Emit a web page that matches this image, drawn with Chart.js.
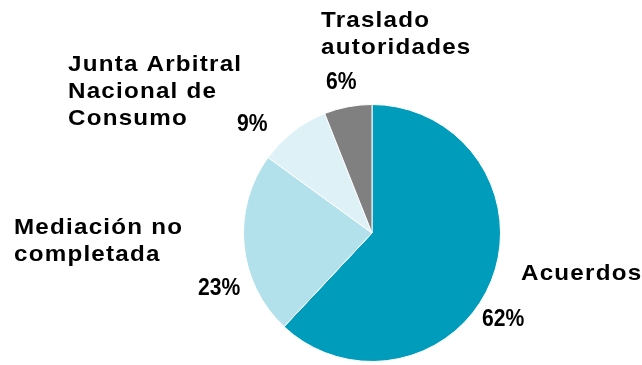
<!DOCTYPE html>
<html>
<head>
<meta charset="utf-8">
<script src="https://cdn.jsdelivr.net/npm/chart.js@4"></script>
<style>
    html, body { margin: 0; padding: 0; background: #ffffff; }
    #wrap { width: 642px; height: 365px; }
</style>
</head>
<body>
<div id="wrap"><canvas id="mediacionPie" width="642" height="365"></canvas></div>
<script>
// Resultados de las mediaciones (%)
const categories = [
    ["Acuerdos"],
    ["Mediación no", "completada"],
    ["Junta Arbitral", "Nacional de", "Consumo"],
    ["Traslado", "autoridades"]
];
const percents = [62, 23, 9, 6];
const sliceColors = ["#009CBC", "#B2E0EB", "#DDF1F6", "#808080"];

// where each label block sits: name (left, first baseline) and percentage (left, baseline)
const labelSpots = [
    { nx: 521, ny: 280, px: 482, py: 326 },
    { nx: 14,  ny: 234, px: 198, py: 295 },
    { nx: 68,  ny: 71,  px: 237, py: 131 },
    { nx: 321, ny: 27,  px: 326, py: 89 }
];

function stretchedText(ctx, text, x, y, sx) {
    ctx.save();
    ctx.translate(x, y);
    ctx.scale(sx, 1);
    ctx.fillText(text, 0, 0);
    ctx.restore();
}

const sliceLabels = {
    id: "sliceLabels",
    afterDraw(chart) {
        const ctx = chart.ctx;
        ctx.save();
        ctx.fillStyle = "#000000";
        ctx.textAlign = "left";
        ctx.textBaseline = "alphabetic";
        categories.forEach(function (lines, i) {
            const spot = labelSpots[i];
            // category names: wide lettering
            ctx.font = "bold 22px 'Liberation Sans', Arial, sans-serif";
            ctx.letterSpacing = "1.1px";
            lines.forEach(function (line, j) {
                stretchedText(ctx, line, spot.nx, spot.ny + j * 27, 1.1);
            });
            // percentages: narrow lettering
            ctx.font = "bold 24px 'Liberation Sans', Arial, sans-serif";
            ctx.letterSpacing = "0px";
            stretchedText(ctx, chart.data.datasets[0].data[i] + "%", spot.px, spot.py, 0.88);
        });
        ctx.restore();
    }
};

new Chart(document.getElementById("mediacionPie").getContext("2d"), {
    type: "pie",
    data: {
        labels: categories.map(l => l.join(" ")),
        datasets: [{
            data: percents,
            backgroundColor: sliceColors,
            borderColor: "#ffffff",
            borderWidth: 1,
            hoverOffset: 0
        }]
    },
    options: {
        responsive: false,
        animation: false,
        layout: { padding: { left: 243, right: 141, top: 104, bottom: 3 } },
        plugins: {
            legend: { display: false },
            tooltip: { enabled: false }
        }
    },
    plugins: [sliceLabels]
});
</script>
</body>
</html>
